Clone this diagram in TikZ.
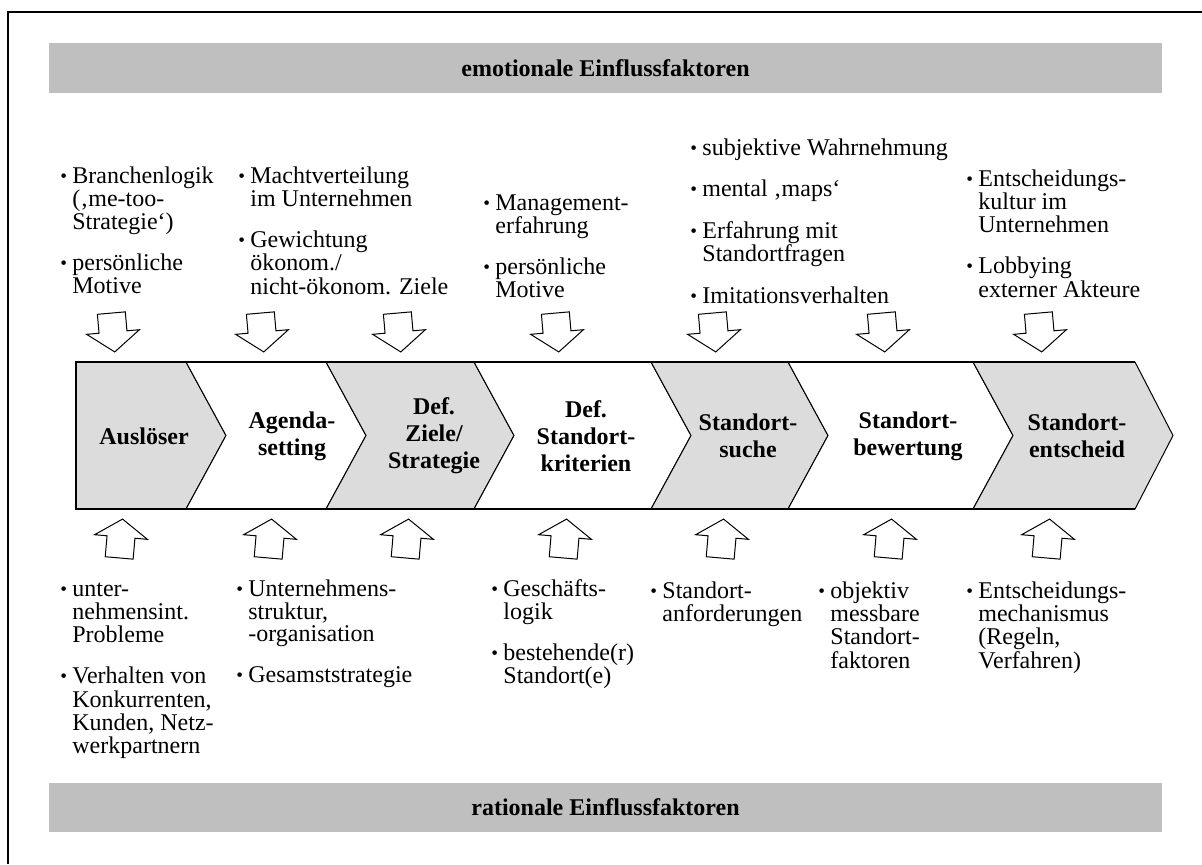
\documentclass[tikz,border=0pt]{standalone}
\usepackage{fontspec}
\setmainfont{Liberation Serif}
\usepackage{graphicx}
\definecolor{barfill}{HTML}{BFBFBF}
\definecolor{stepgray}{HTML}{DCDCDC}
% bullet with a fixed-width slot in front of each factor
\newcommand{\bul}{\makebox[6pt][l]{\raisebox{0.04em}{\scalebox{0.8}{•}}}}
\begin{document}
\begin{tikzpicture}[x=0.5pt,y=-0.5pt,
  bartitle/.style={font=\bfseries\fontsize{12pt}{13pt}\selectfont, inner sep=0},
  steplabel/.style={font=\bfseries\fontsize{12pt}{13.5pt}\selectfont, align=center, inner sep=0},
  factors/.style={font=\fontsize{12pt}{11pt}\selectfont, inner sep=0, anchor=base west},
  stepshape/.style={draw=black, line width=0.5pt, line join=miter},
  blockarrow/.style={draw=black, line width=0.5pt, fill=white, line join=miter},
  dnblock/.pic={\path[blockarrow] (-14,-19) -- (14,-19) -- (14,0) -- (26.5,0)
      -- (0,20) -- (-26.5,0) -- (-14,0) -- cycle;},
  upblock/.pic={\path[blockarrow] (-14,21) -- (14,21) -- (14,0) -- (26.5,0)
      -- (0,-18) -- (-26.5,0) -- (-14,0) -- cycle;},
]
\useasboundingbox (0,0) rectangle (1202,864);

% outer frame (open to the right and bottom)
\draw[line width=1.1pt] (8,864) -- (8,12) -- (1202,12);

% headline bars
\fill[barfill] (49,43) rectangle (1162,93);
\node[bartitle] (emo) at (605.5,68) {emotionale Einflussfaktoren};
\fill[barfill] (49,783) rectangle (1162,832);
\node[bartitle] (rat) at (605.5,807.5) {rationale Einflussfaktoren};

% process chevrons
\path[stepshape, fill=stepgray] (76,362) -- (186,362) -- (226,435.5) -- (186,509) -- (76,509) -- cycle;
\path[stepshape, fill=white] (186,362) -- (326,362) -- (366,435.5) -- (326,509) -- (186,509) -- (226,435.5) -- cycle;
\path[stepshape, fill=stepgray] (326,362) -- (474,362) -- (514,435.5) -- (474,509) -- (326,509) -- (366,435.5) -- cycle;
\path[stepshape, fill=white] (474,362) -- (651,362) -- (691,435.5) -- (651,509) -- (474,509) -- (514,435.5) -- cycle;
\path[stepshape, fill=stepgray] (651,362) -- (788,362) -- (828,435.5) -- (788,509) -- (651,509) -- (691,435.5) -- cycle;
\path[stepshape, fill=white] (788,362) -- (973,362) -- (1013,435.5) -- (973,509) -- (788,509) -- (828,435.5) -- cycle;
\path[stepshape, fill=stepgray] (973,362) -- (1135,362) -- (1173,435.5) -- (1135,509) -- (973,509) -- (1013,435.5) -- cycle;
\draw[line width=1.2pt] (1135,362) -- (76,362) -- (76,509) -- (1135,509);

\node[steplabel] (s1) at (144,436) {Auslöser};
\node[steplabel] (s2) at (292,436) {Agenda-\\setting};
\node[steplabel] (s3) at (434,436) {Def.\\Ziele/\\Strategie};
\node[steplabel] (s4) at (586,436) {Def.\\Standort-\\kriterien};
\node[steplabel] (s5) at (748,436) {Standort-\\suche};
\node[steplabel] (s6) at (908,436) {Standort-\\bewertung};
\node[steplabel] (s7) at (1077,436) {Standort-\\entscheid};

% block arrows
\foreach \cx [count=\i] in {113,262,399,557,714,883,1040}
  \pic[rotate=5] (dn\i) at (\cx,332) {dnblock};
\foreach \cx [count=\i] in {121,270,407,565,722,890,1048}
  \pic[rotate=-5] (up\i) at (\cx,537) {upblock};

% emotional factors
\node[factors] (e1) at (60,183) {\begin{tabular}[t]{@{}l@{}l@{}}
\bul & Branchenlogik\\
     & (‚me-too-\\
     & Strategie‘)\\[9pt]
\bul & persönliche\\
     & Motive
\end{tabular}};
\node[factors] (e2) at (238,183) {\begin{tabular}[t]{@{}l@{}l@{}}
\bul & Machtverteilung\\
     & im Unternehmen\\[9pt]
\bul & Gewichtung\\
     & ökonom./\\
     & nicht-ökonom. Ziele
\end{tabular}};
\node[factors] (e3) at (483,210) {\begin{tabular}[t]{@{}l@{}l@{}}
\bul & Management-\\
     & erfahrung\\[9pt]
\bul & persönliche\\
     & Motive
\end{tabular}};
\node[factors] (e4) at (690,155.5) {\begin{tabular}[t]{@{}l@{}l@{}}
\bul & subjektive Wahrnehmung\\[9pt]
\bul & mental ‚maps‘\\[9pt]
\bul & Erfahrung mit\\
     & Standortfragen\\[9pt]
\bul & Imitationsverhalten
\end{tabular}};
\node[factors] (e5) at (966,186) {\begin{tabular}[t]{@{}l@{}l@{}}
\bul & Entscheidungs-\\
     & kultur im\\
     & Unternehmen\\[9pt]
\bul & Lobbying\\
     & externer Akteure
\end{tabular}};

% rational factors
\node[factors] (r1) at (60,596) {\begin{tabular}[t]{@{}l@{}l@{}}
\bul & unter-\\
     & nehmensint.\\
     & Probleme\\[9pt]
\bul & Verhalten von\\
     & Konkurrenten,\\
     & Kunden, Netz-\\
     & werkpartnern
\end{tabular}};
\node[factors] (r2) at (236,596) {\begin{tabular}[t]{@{}l@{}l@{}}
\bul & Unternehmens-\\
     & struktur,\\
     & -organisation\\[9pt]
\bul & Gesamststrategie
\end{tabular}};
\node[factors] (r3) at (491,596) {\begin{tabular}[t]{@{}l@{}l@{}}
\bul & Geschäfts-\\
     & logik\\[9pt]
\bul & bestehende(r)\\
     & Standort(e)
\end{tabular}};
\node[factors] (r4) at (650,598) {\begin{tabular}[t]{@{}l@{}l@{}}
\bul & Standort-\\
     & anforderungen
\end{tabular}};
\node[factors] (r5) at (818,598) {\begin{tabular}[t]{@{}l@{}l@{}}
\bul & objektiv\\
     & messbare\\
     & Standort-\\
     & faktoren
\end{tabular}};
\node[factors] (r6) at (966,598) {\begin{tabular}[t]{@{}l@{}l@{}}
\bul & Entscheidungs-\\
     & mechanismus\\
     & (Regeln,\\
     & Verfahren)
\end{tabular}};
\end{tikzpicture}
\end{document}
